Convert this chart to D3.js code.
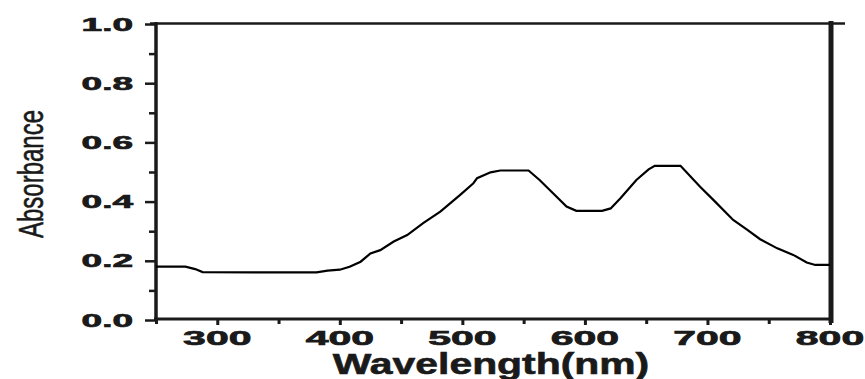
<!DOCTYPE html>
<html>
<head>
<meta charset="utf-8">
<script src="https://cdn.jsdelivr.net/npm/d3@7"></script>
<style>
    body { margin: 0; background: #fff; }
    svg { display: block; }
</style>
</head>
<body>
<svg id="viz" width="865" height="379"></svg>
<script>
// spectrum
let wavelength = [250, 274, 282, 288, 330, 381, 390, 400, 408, 417, 425, 433, 444, 455, 468, 482, 490, 498, 509, 512,
    523, 531, 554, 563, 574, 585, 593, 614, 621, 629, 642, 652, 657, 678, 694, 705, 721, 732, 743, 757, 770, 781, 788, 800];
let absorbance = [0.180, 0.180, 0.172, 0.162, 0.161, 0.161, 0.167, 0.170, 0.180, 0.197, 0.225, 0.236, 0.265, 0.287, 0.327,
    0.366, 0.394, 0.422, 0.462, 0.479, 0.499, 0.505, 0.505, 0.473, 0.428, 0.383, 0.369, 0.369, 0.377, 0.411, 0.473, 0.509,
    0.521, 0.521, 0.450, 0.405, 0.338, 0.306, 0.273, 0.242, 0.220, 0.194, 0.186, 0.186];

let xMajor = [300, 400, 500, 600, 700, 800];
let xMinor = [250, 350, 450, 550, 650, 750];
let yMajor = [0, 0.2, 0.4, 0.6, 0.8, 1.0];
let yMinor = [0.1, 0.3, 0.5, 0.7, 0.9];

let svg = d3.select("#viz");
let x = d3.scaleLinear().domain([250, 800]).range([156, 830]);
let y = d3.scaleLinear().domain([0, 1]).range([320, 24]);
let ink = "#1a1a1a";

// ticks (outward)
svg.append("g").attr("transform", "translate(156,0)")
    .call(d3.axisLeft(y).tickValues(yMajor).tickSize(11).tickFormat(""))
    .call(g => g.select(".domain").remove())
    .selectAll("line").attr("stroke", ink).attr("stroke-width", 2.5);
svg.append("g").attr("transform", "translate(156,0)")
    .call(d3.axisLeft(y).tickValues(yMinor).tickSize(7).tickFormat(""))
    .call(g => g.select(".domain").remove())
    .selectAll("line").attr("stroke", ink).attr("stroke-width", 2.5);
svg.append("g").attr("transform", "translate(0,319)")
    .call(d3.axisBottom(x).tickValues(xMajor).tickSize(6).tickFormat(""))
    .call(g => g.select(".domain").remove())
    .selectAll("line").attr("stroke", ink).attr("stroke-width", 3);
svg.append("g").attr("transform", "translate(0,319)")
    .call(d3.axisBottom(x).tickValues(xMinor).tickSize(5).tickFormat(""))
    .call(g => g.select(".domain").remove())
    .selectAll("line").attr("stroke", ink).attr("stroke-width", 3);

// frame
svg.append("line").attr("x1", 156).attr("x2", 156).attr("y1", 22).attr("y2", 321)
    .attr("stroke", ink).attr("stroke-width", 3.5);
svg.append("line").attr("x1", 154).attr("x2", 832).attr("y1", 319).attr("y2", 319)
    .attr("stroke", ink).attr("stroke-width", 3);
svg.append("line").attr("x1", 150).attr("x2", 845).attr("y1", 23.5).attr("y2", 23.5)
    .attr("stroke", ink).attr("stroke-width", 2.5);
svg.append("line").attr("x1", 831).attr("x2", 831).attr("y1", 21).attr("y2", 323)
    .attr("stroke", ink).attr("stroke-width", 5);

// tick labels, stretched wide and heavy like the picture
svg.append("g").selectAll("text").data(yMajor).enter().append("text")
    .attr("transform", d => "translate(133," + y(d) + ") scale(2,1)")
    .attr("text-anchor", "end").attr("dy", "0.36em")
    .style("font-family", "Liberation Sans, Arial, sans-serif").style("font-weight", "bold")
    .style("font-size", "18.5px").style("fill", ink)
    .style("stroke", ink).style("stroke-width", 0.7)
    .text(d => d.toFixed(1));
svg.append("g").selectAll("text").data(xMajor).enter().append("text")
    .attr("transform", d => "translate(" + x(d) + ",345) scale(1.95,1)")
    .attr("text-anchor", "middle")
    .style("font-family", "Liberation Sans, Arial, sans-serif").style("font-weight", "bold")
    .style("font-size", "21px").style("fill", ink)
    .style("stroke", ink).style("stroke-width", 0.7)
    .text(d => d);

// axis titles (the picture clips the bottom of this one too)
svg.append("text")
    .attr("transform", "translate(491,374) scale(1.41,1)")
    .attr("text-anchor", "middle")
    .style("font-family", "Liberation Sans, Arial, sans-serif").style("font-weight", "bold")
    .style("font-size", "29px").style("fill", ink)
    .style("stroke", ink).style("stroke-width", 0.6)
    .text("Wavelength(nm)");
svg.append("text")
    .attr("transform", "translate(30.5,174) scale(1.45,1) rotate(-90)")
    .attr("text-anchor", "middle").attr("dy", "0.36em")
    .style("font-family", "Liberation Sans, Arial, sans-serif")
    .style("font-size", "24px").style("fill", ink)
    .style("stroke", ink).style("stroke-width", 0.4)
    .text("Absorbance");

// spectrum
let line = d3.line()
    .x(d => x(d[0]))
    .y(d => y(d[1]));
svg.append("path")
    .datum(d3.zip(wavelength, absorbance))
    .attr("fill", "none")
    .attr("stroke", "#000")
    .attr("stroke-width", 2.2)
    .attr("d", line);
</script>
</body>
</html>
